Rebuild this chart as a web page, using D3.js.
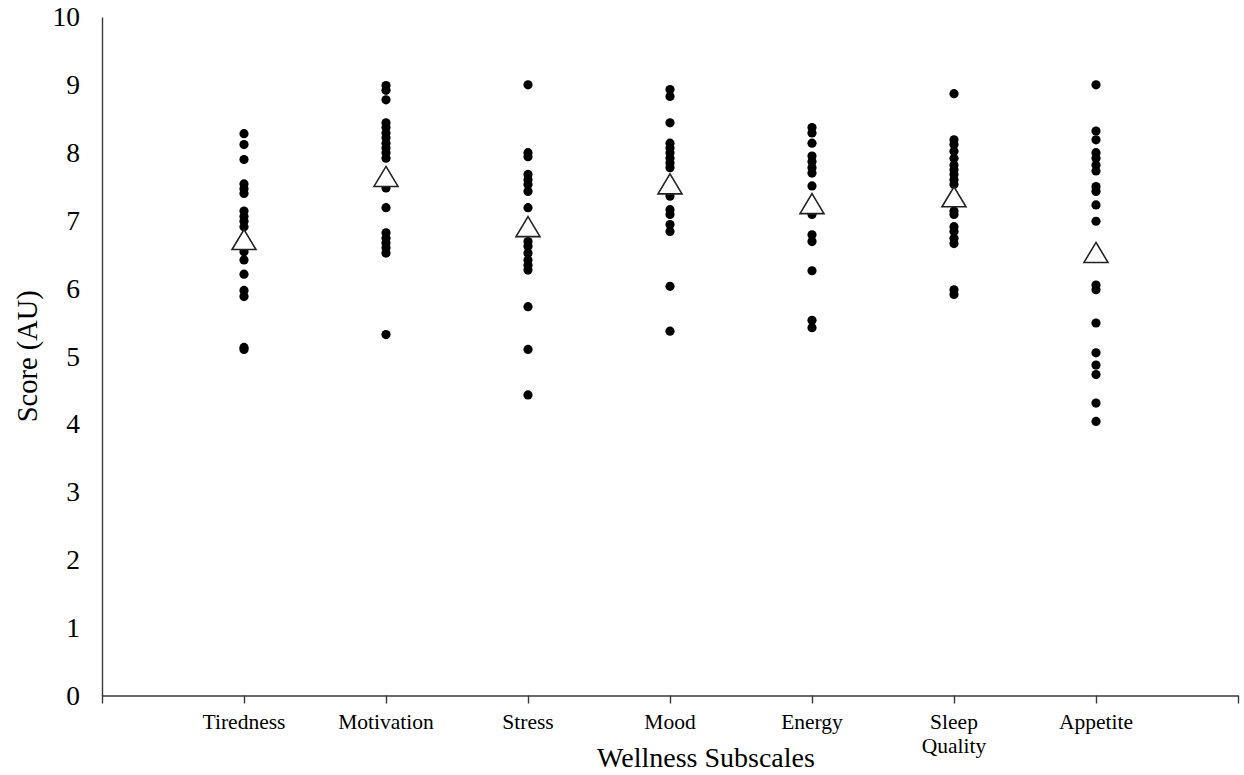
<!DOCTYPE html>
<html>
<head>
<meta charset="utf-8">
<script src="https://cdn.jsdelivr.net/npm/d3@7"></script>
<style>
  html, body { margin: 0; padding: 0; background: #fff; }
  svg { display: block; }
  text { font-family: "Liberation Serif", "Times New Roman", serif; fill: #000; }
</style>
</head>
<body>
<svg id="chart" width="1244" height="775"></svg>
<script>
// Wellness subscale categories (x positions 1..7 on a 0..8 axis)
const categories = ["Tiredness", "Motivation", "Stress", "Mood", "Energy", "Sleep Quality", "Appetite"];

// Individual participant scores per subscale
const tiredness  = [8.28, 8.12, 7.90, 7.54, 7.47, 7.40, 7.14, 7.06, 6.99, 6.91, 6.54, 6.42, 6.21, 5.97, 5.88, 5.13, 5.10];
const motivation = [8.99, 8.92, 8.78, 8.44, 8.37, 8.29, 8.22, 8.14, 8.07, 8.00, 7.92, 7.48, 7.19, 6.82, 6.74, 6.67, 6.60, 6.52, 5.32];
const stress     = [9.00, 8.00, 7.94, 7.68, 7.60, 7.53, 7.43, 7.19, 6.69, 6.62, 6.52, 6.42, 6.34, 6.27, 5.73, 5.10, 4.43];
const mood       = [8.93, 8.83, 8.44, 8.14, 8.07, 8.00, 7.92, 7.85, 7.78, 7.36, 7.16, 7.09, 6.94, 6.84, 6.03, 5.37];
const energy     = [8.37, 8.29, 8.14, 7.95, 7.87, 7.78, 7.70, 7.51, 7.09, 6.79, 6.69, 6.26, 5.53, 5.42];
const sleepQual  = [8.87, 8.19, 8.12, 8.02, 7.92, 7.82, 7.75, 7.68, 7.60, 7.53, 7.14, 7.09, 6.91, 6.84, 6.74, 6.66, 5.98, 5.91];
const appetite   = [9.00, 8.32, 8.19, 8.00, 7.92, 7.82, 7.73, 7.50, 7.43, 7.23, 6.99, 6.05, 5.98, 5.49, 5.05, 4.87, 4.73, 4.31, 4.04];

// Group means (triangles)
const means = [6.72, 7.65, 6.91, 7.54, 7.25, 7.35, 6.53];

// Y axis tick labels
const yTicks = [0, 1, 2, 3, 4, 5, 6, 7, 8, 9, 10];

const seriesValues = [tiredness, motivation, stress, mood, energy, sleepQual, appetite];

const svg = d3.select("#chart");
const axisColor = "#3a3a3a";

const x = d3.scaleLinear().domain([0, 8]).range([102, 1238]);
const y = d3.scaleLinear().domain([0, 10]).range([695.5, 17]);

// Y axis: line with labels only
const yAxis = d3.axisLeft(y).tickValues(yTicks).tickSize(0).tickPadding(22).tickFormat(d3.format("d"));
const gy = svg.append("g").attr("transform", `translate(${x(0)},0)`).call(yAxis);
gy.select(".domain").attr("stroke", axisColor).attr("stroke-width", 1.4);
gy.selectAll("text").style("font-size", "27.5px").style("font-family", "Liberation Serif, serif").attr("fill", "#000");

// X axis: ticks at every integer position, labels at categories
const xAxis = d3.axisBottom(x).tickValues(d3.range(0, 9)).tickSize(8).tickSizeOuter(0).tickFormat(() => "");
const gx = svg.append("g").attr("transform", `translate(0,${y(0)})`).call(xAxis);
gx.select(".domain").attr("stroke", axisColor).attr("stroke-width", 1.4);
gx.selectAll(".tick line").attr("stroke", axisColor).attr("stroke-width", 1.4);

// Category labels (wrap two-word "Sleep Quality")
categories.forEach((c, i) => {
  const words = c === "Sleep Quality" ? ["Sleep", "Quality"] : [c];
  const t = svg.append("text")
    .attr("x", x(i + 1))
    .attr("y", 729)
    .attr("text-anchor", "middle")
    .style("font-size", "21.5px");
  words.forEach((w, k) => {
    t.append("tspan").attr("x", x(i + 1)).attr("dy", k === 0 ? 0 : 24).text(w);
  });
});

// Individual scores
seriesValues.forEach((vals, i) => {
  svg.append("g").selectAll("circle")
    .data(vals)
    .join("circle")
    .attr("cx", x(i + 1))
    .attr("cy", d => y(d))
    .attr("r", 4.6)
    .attr("fill", "#000");
});

// Mean markers: open upward triangles
const triW = 24, triH = 20;
const triPath = `M0,${-triH / 2}L${triW / 2},${triH / 2}L${-triW / 2},${triH / 2}Z`;
svg.append("g").selectAll("path")
  .data(means)
  .join("path")
  .attr("d", triPath)
  .attr("transform", (d, i) => `translate(${x(i + 1)},${y(d)})`)
  .attr("fill", "#fff")
  .attr("stroke", "#222")
  .attr("stroke-width", 1.6);

// Axis titles
svg.append("text")
  .attr("x", 706)
  .attr("y", 767)
  .attr("text-anchor", "middle")
  .style("font-size", "28px")
  .text("Wellness Subscales");

svg.append("text")
  .attr("transform", `translate(37,${(y(0) + y(10)) / 2}) rotate(-90)`)
  .attr("text-anchor", "middle")
  .style("font-size", "28.5px")
  .text("Score (AU)");
</script>
</body>
</html>
